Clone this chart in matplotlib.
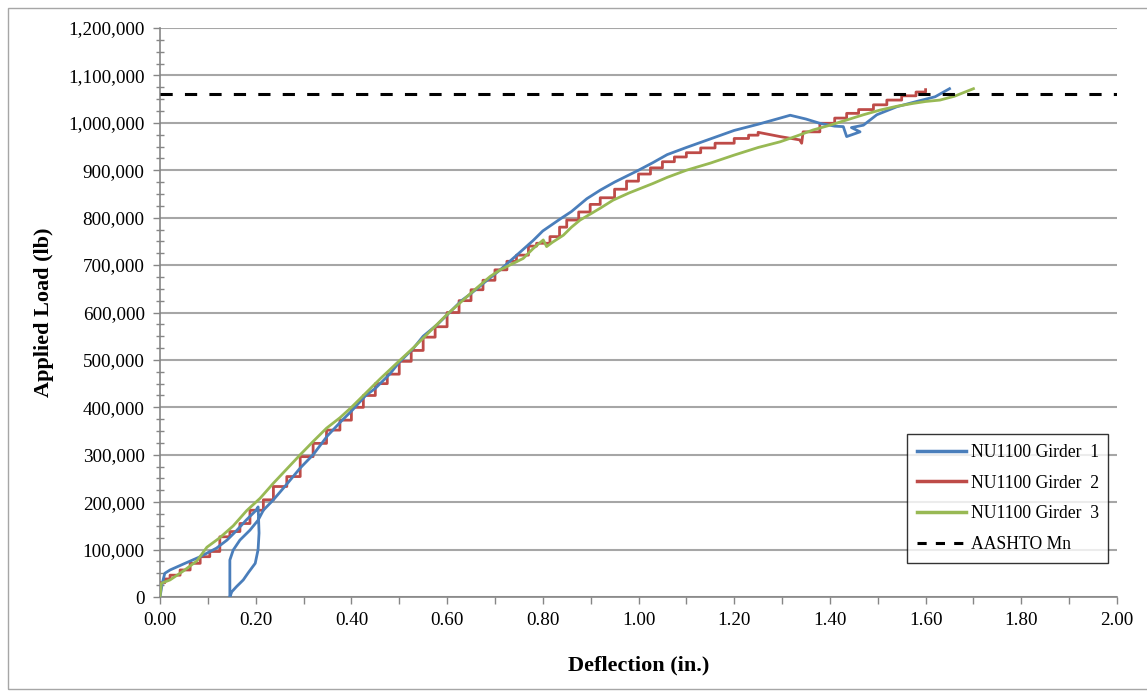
import matplotlib.pyplot as plt
from matplotlib.ticker import MultipleLocator, FuncFormatter
from matplotlib.lines import Line2D

plt.rcParams['font.family'] = ['Liberation Serif', 'DejaVu Serif']

# Girder 1 (blue): initial load, unload, reload, then main curve
g1_defl = [0, 0.005, 0.010, 0.021, 0.050, 0.084, 0.118, 0.140, 0.160, 0.180, 0.200, 0.205,
           0.206, 0.207, 0.205, 0.199, 0.185, 0.174, 0.160, 0.150, 0.146,
           0.146, 0.146, 0.153, 0.167, 0.188, 0.205, 0.216, 0.237, 0.265, 0.293, 0.320,
           0.350, 0.380, 0.400, 0.430, 0.450, 0.480, 0.500, 0.530, 0.550, 0.580, 0.600,
           0.630, 0.650, 0.680, 0.711, 0.750, 0.780, 0.800, 0.836, 0.860, 0.892, 0.920,
           0.950, 0.980, 1.000, 1.030, 1.060, 1.100, 1.150, 1.200, 1.250, 1.296, 1.317,
           1.350, 1.379, 1.410, 1.428, 1.435, 1.463, 1.445, 1.470, 1.498, 1.540, 1.581,
           1.620, 1.650]
g1_load = [0, 30000, 50000, 57000, 70000, 85000, 103000, 120000, 140000, 162000, 182000, 190000,
           165000, 135000, 100000, 71000, 52000, 36000, 22000, 11000, 0,
           40000, 78000, 99000, 120000, 141000, 162000, 183000, 205000, 238000, 272000, 300000,
           340000, 372000, 392000, 425000, 440000, 470000, 495000, 525000, 550000, 575000, 595000,
           625000, 640000, 665000, 690000, 725000, 752000, 772000, 797000, 813000, 840000, 858000,
           875000, 890000, 900000, 916000, 933000, 948000, 966000, 984000, 997000, 1010000, 1016000,
           1008000, 999000, 993000, 992000, 971000, 981000, 990000, 995000, 1017000, 1034000, 1045000,
           1055000, 1072000]

# Girder 2 (red): stair-stepped record
g2_defl_a = [0.000, 0.010, 0.021, 0.042, 0.063, 0.084, 0.104, 0.125, 0.146, 0.167, 0.188,
             0.216, 0.237, 0.265, 0.293, 0.320, 0.348, 0.376, 0.400, 0.425, 0.450, 0.475,
             0.500, 0.525, 0.550, 0.575, 0.600, 0.625, 0.650, 0.675, 0.700, 0.725, 0.745,
             0.770, 0.787, 0.815, 0.835, 0.850, 0.875, 0.899, 0.920, 0.950, 0.975, 1.000,
             1.025, 1.050, 1.075, 1.100, 1.130, 1.160, 1.200, 1.230, 1.250]
g2_load_a = [30000, 38000, 46000, 57000, 71000, 85000, 96000, 127000, 138000, 155000, 183000,
             205000, 233000, 254000, 296000, 324000, 352000, 373000, 400000, 425000, 450000, 470000,
             497000, 520000, 548000, 570000, 600000, 625000, 648000, 668000, 690000, 708000, 721000,
             740000, 746000, 760000, 780000, 795000, 812000, 828000, 842000, 860000, 877000, 892000,
             905000, 918000, 928000, 937000, 947000, 957000, 967000, 974000, 980000]
g2_defl_b = [1.296, 1.337, 1.341]
g2_load_b = [971000, 964000, 957000]
g2_defl_c = [1.344, 1.379, 1.410, 1.435, 1.460, 1.491, 1.519, 1.550, 1.580, 1.600]
g2_load_c = [981000, 999000, 1010000, 1020000, 1028000, 1038000, 1048000, 1057000, 1065000, 1070000]

# Girder 3 (green)
g3_defl = [0, 0.003, 0.021, 0.049, 0.077, 0.098, 0.125, 0.153, 0.181, 0.209, 0.237, 0.265,
           0.293, 0.320, 0.348, 0.376, 0.400, 0.430, 0.460, 0.500, 0.530, 0.560, 0.600, 0.630,
           0.660, 0.690, 0.711, 0.735, 0.759, 0.780, 0.801, 0.808, 0.820, 0.843, 0.860, 0.878,
           0.900, 0.920, 0.947, 0.980, 1.000, 1.030, 1.060, 1.100, 1.150, 1.200, 1.250, 1.296,
           1.330, 1.365, 1.400, 1.435, 1.470, 1.505, 1.540, 1.574, 1.600, 1.630, 1.660, 1.700]
g3_load = [0, 29000, 36000, 55000, 76000, 105000, 125000, 150000, 182000, 208000, 240000, 270000,
           300000, 328000, 356000, 378000, 400000, 430000, 460000, 498000, 526000, 556000, 596000, 623000,
           650000, 676000, 690000, 702000, 714000, 735000, 753000, 739000, 748000, 763000, 780000, 795000,
           808000, 820000, 837000, 852000, 860000, 872000, 885000, 900000, 915000, 932000, 948000, 960000,
           972000, 985000, 995000, 1006000, 1017000, 1027000, 1035000, 1041000, 1045000, 1048000, 1056000, 1072000]

aashto_mn = 1060000


def stairs(x, y):
    xs, ys = [], []
    for i in range(len(x)):
        if i > 0:
            xs.append(x[i])
            ys.append(y[i - 1])
        xs.append(x[i])
        ys.append(y[i])
    return xs, ys


sa_x, sa_y = stairs(g2_defl_a, g2_load_a)
sc_x, sc_y = stairs(g2_defl_c, g2_load_c)
g2_x = sa_x + g2_defl_b + sc_x
g2_y = sa_y + g2_load_b + sc_y

blue = '#4A7EBB'
red = '#BE4B48'
green = '#98B954'

fig = plt.figure(figsize=(11.47, 6.92), dpi=100)
ax = fig.add_axes([160 / 1147, 1 - 597 / 692, 957 / 1147, 569 / 692])

# outer chart border
fig.add_artist(plt.Rectangle((8 / 1147, 3 / 692), 1.2, 681 / 692, transform=fig.transFigure,
                             fill=False, edgecolor='#a6a6a6', linewidth=1.0))

ax.plot(g1_defl, g1_load, color=blue, lw=2.0, zorder=4)
ax.plot(g2_x, g2_y, color=red, lw=2.0, zorder=3)
ax.plot(g3_defl, g3_load, color=green, lw=2.0, zorder=5)
ax.axhline(aashto_mn, color='black', lw=2.2, dashes=(4, 4), zorder=6)

ax.set_xlim(0, 2.0)
ax.set_ylim(0, 1200000)

ax.xaxis.set_major_locator(MultipleLocator(0.2))
ax.xaxis.set_minor_locator(MultipleLocator(0.1))
ax.xaxis.set_major_formatter(FuncFormatter(lambda v, p: f'{v:.2f}'))
ax.yaxis.set_major_locator(MultipleLocator(100000))
ax.yaxis.set_minor_locator(MultipleLocator(25000))
ax.yaxis.set_major_formatter(FuncFormatter(lambda v, p: f'{int(round(v)):,}'))

ax.tick_params(axis='both', which='major', direction='out', length=5, color='#868686',
               labelsize=13.8, width=1)
ax.tick_params(axis='x', which='minor', direction='out', length=5, color='#868686', width=1)
ax.tick_params(axis='y', which='minor', direction='inout', length=6, color='#868686', width=1)
ax.tick_params(axis='y', which='major', pad=6)
ax.tick_params(axis='x', which='major', pad=6)

ax.grid(axis='y', which='major', color='#a6a6a6', lw=1.5)
ax.set_axisbelow(True)
for s in ['top', 'right']:
    ax.spines[s].set_visible(False)
for s in ['left', 'bottom']:
    ax.spines[s].set_color('#868686')
    ax.spines[s].set_linewidth(1.2)

ax.set_xlabel('Deflection (in.)', fontsize=16, fontweight='bold', labelpad=19)
ax.set_ylabel('Applied Load (lb)', fontsize=16, fontweight='bold', labelpad=10)

handles = [Line2D([], [], color=blue, lw=2.5), Line2D([], [], color=red, lw=2.5),
           Line2D([], [], color=green, lw=2.5), Line2D([], [], color='black', lw=2.2, dashes=(3, 3))]
labels = ['NU1100 Girder  1', 'NU1100 Girder  2', 'NU1100 Girder  3', 'AASHTO Mn']
leg = ax.legend(handles, labels, loc='lower right', bbox_to_anchor=(0.991, 0.06), fontsize=12.7,
                frameon=True, fancybox=False, edgecolor='black', handlelength=2.8,
                labelspacing=0.78, borderpad=0.55, handletextpad=0.25, borderaxespad=0)
leg.get_frame().set_linewidth(1.0)

fig.savefig('out.png', dpi=100)
